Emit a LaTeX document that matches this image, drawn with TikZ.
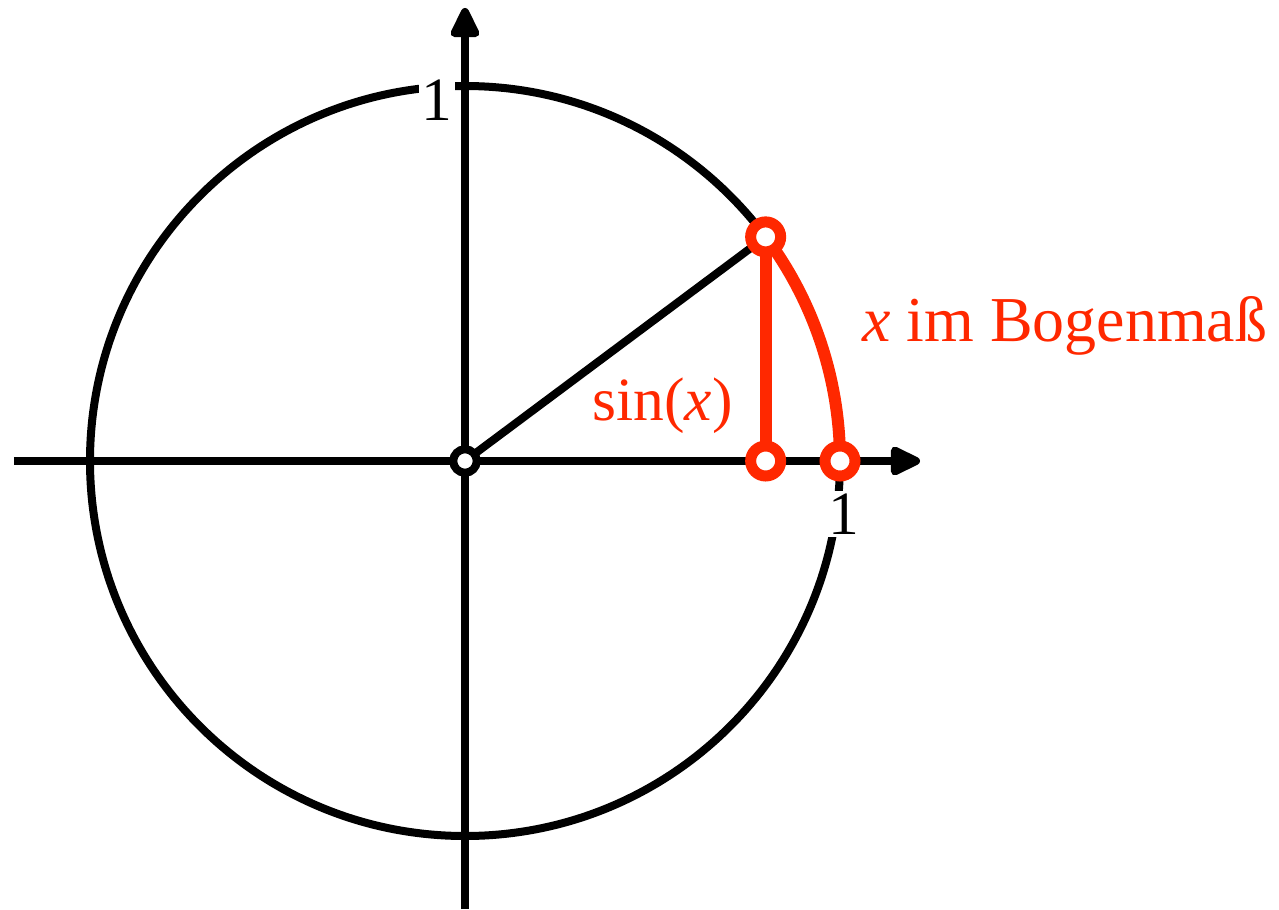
\documentclass[tikz,border=0pt]{standalone}
\usepackage{fontspec}
\setmainfont{Liberation Serif}
\usepackage{xcolor}
\usetikzlibrary{arrows.meta,calc}
\definecolor{cRed}{RGB}{255,40,0}
\definecolor{cInk}{RGB}{0,0,0}

\begin{document}
\begin{tikzpicture}[
   ax/.style={-{Triangle[length=0.7cm,width=0.62cm,round]},line width=0.16cm,cInk},
   ln/.style={line width=0.16cm,cInk},
   rl/.style={line width=0.24cm,cRed},
   rd/.style={circle,draw=cRed,fill=white,line width=0.22cm,minimum size=0.6cm,inner sep=0pt},
   od/.style={circle,draw=cInk,fill=white,line width=0.16cm,minimum size=0.47cm,inner sep=0pt},
   lb/.style={font=\fontsize{35}{40}\selectfont,inner sep=0pt},
   one/.style={font=\fontsize{35}{40}\selectfont,fill=white,inner sep=0.06cm}]
  \useasboundingbox (-9.30,-8.96) rectangle (16.28,9.22);
  \coordinate (O) at (0,0);
  \coordinate (P) at (36.7:7.5);
  \coordinate (F) at (P |- O);
  \coordinate (R) at (7.5,0);
  \coordinate (xl) at (-9.02,0);
  \coordinate (xr) at (9.10,0);
  \coordinate (yb) at (0,-8.96);
  \coordinate (yt) at (0,9.06);
  % unit circle
  \draw[ln] (O) circle[radius=7.5cm];
  \node[one] (one y) at (-0.56,7.22) {1};
  \node[one] (one x) at (7.58,-1.06) {1};
  % axes
  \draw[ax] (xl) -- (xr);
  \draw[ax] (yb) -- (yt);
  \draw[ln] (O) -- (P);
  % sine and arc
  \draw[rl] (P) -- (F);
  \draw[rl] (P) arc[start angle=36.7,end angle=0,radius=7.5cm];
  \node[od] (o) at (O) {};
  \node[rd] (p) at (P) {};
  \node[rd] (f) at (F) {};
  \node[rd] (r) at (R) {};
  \node[lb,cRed,anchor=base east] (sin) at (5.36,0.82) {sin(\textit{x})};
  \node[lb,cRed,anchor=base west,font=\fontsize{36.4}{40}\selectfont] (bog) at (7.94,2.40) {\textit{x} im Bogenmaß};
\end{tikzpicture}
\end{document}
